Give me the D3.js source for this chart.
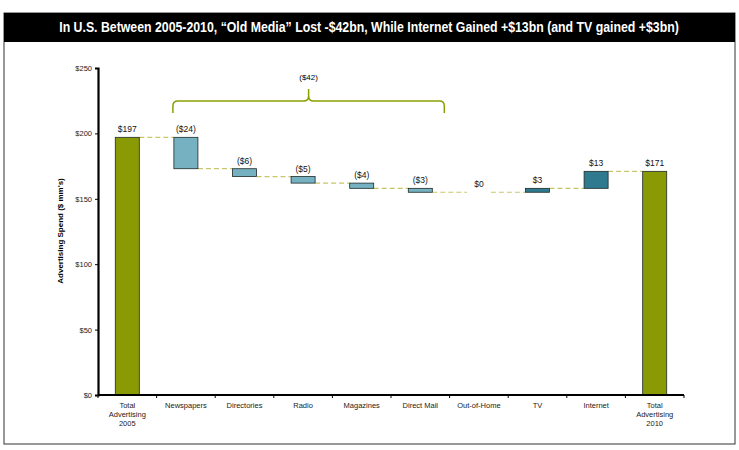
<!DOCTYPE html>
<html>
<head>
<meta charset="utf-8">
<script src="https://cdn.jsdelivr.net/npm/d3@7"></script>
<style>
body { margin: 0; background: #fff; }
text { font-family: "Liberation Sans", Arial, sans-serif; }
</style>
</head>
<body>
<script>
// data
var categories = ["Total Advertising 2005", "Newspapers", "Directories", "Radio", "Magazines",
                  "Direct Mail", "Out-of-Home", "TV", "Internet", "Total Advertising 2010"];
var values = [197, -24, -6, -5, -4, -3, 0, 3, 13, 171];
var kinds = ["total", "delta", "delta", "delta", "delta", "delta", "delta", "delta", "delta", "total"];
var valueLabels = ["$197", "($24)", "($6)", "($5)", "($4)", "($3)", "$0", "$3", "$13", "$171"];
var yTicks = [0, 50, 100, 150, 200, 250];
var braceLabel = "($42)";
var braceSpan = ["Newspapers", "Direct Mail"];

var svg = d3.select("body").append("svg")
	.attr("width", 739)
	.attr("height", 450);

// frame + title
svg.append("rect")
	.attr("x", 4).attr("y", 13)
	.attr("width", 731).attr("height", 431)
	.attr("fill", "none")
	.style("stroke", "#333")
	.style("stroke-width", 1);
svg.append("rect")
	.attr("x", 4).attr("y", 13)
	.attr("width", 731).attr("height", 29)
	.attr("fill", "#000");
// condensed look: squeeze horizontally
svg.append("text")
	.attr("transform", "translate(369,32) scale(0.88,1)")
	.attr("fill", "#fff")
	.style("font-weight", "bold")
	.style("font-size", "14px")
	.style("text-anchor", "middle")
	.text("In U.S. Between 2005-2010, \u201cOld Media\u201d Lost -$42bn, While Internet Gained +$13bn (and TV gained +$3bn)");

var x = d3.scaleBand().domain(categories).range([98, 684]).paddingInner(0.59).paddingOuter(0.295);
var y = d3.scaleLinear().domain([0, 250]).range([395, 68]);

// running totals
var bars = [];
var run = 0;
for (var i = 0; i < values.length; i++) {
	if (kinds[i] == "total") {
		bars.push({c: categories[i], lo: 0, hi: values[i], end: values[i], v: values[i], k: "total", lab: valueLabels[i]});
		run = values[i];
	} else {
		var next = run + values[i];
		bars.push({c: categories[i], lo: Math.min(run, next), hi: Math.max(run, next), end: next, v: values[i],
			k: values[i] < 0 ? "down" : "up", lab: valueLabels[i]});
		run = next;
	}
}
var colors = {total: "#8a9a05", down: "#76b1c2", up: "#2f7a8e"};

// connectors
for (var i = 0; i < bars.length - 1; i++) {
	svg.append("line")
		.attr("x1", x(bars[i].c) + x.bandwidth())
		.attr("x2", x(bars[i + 1].c))
		.attr("y1", y(bars[i].end))
		.attr("y2", y(bars[i].end))
		.style("stroke", "#c9c56a")
		.style("stroke-width", 1.2)
		.style("stroke-dasharray", "5,3");
}

// bars
svg.selectAll(".bar").data(bars.filter(function(d) { return d.v != 0; }))
	.enter().append("rect")
	.attr("class", "bar")
	.attr("x", function(d) { return x(d.c); })
	.attr("y", function(d) { return y(d.hi); })
	.attr("width", x.bandwidth())
	.attr("height", function(d) { return y(d.lo) - y(d.hi); })
	.attr("fill", function(d) { return colors[d.k]; })
	.style("stroke", "#1d2a2a")
	.style("stroke-width", 0.8);

svg.selectAll(".vlab").data(bars)
	.enter().append("text")
	.attr("class", "vlab")
	.attr("x", function(d) { return x(d.c) + x.bandwidth() / 2; })
	.attr("y", function(d) { return y(d.hi) - 5; })
	.style("font-size", "8.5px")
	.style("text-anchor", "middle")
	.attr("fill", "#111")
	.text(function(d) { return d.lab; });

// axes
var yAxis = svg.append("g")
	.attr("transform", "translate(98,0)")
	.call(d3.axisLeft(y).tickValues(yTicks).tickSize(3).tickFormat(function(d) { return "$" + d; }));
yAxis.select(".domain").style("stroke-width", 2.2);
yAxis.selectAll("text").style("font-size", "7.5px").attr("fill", "#222")
	.style("font-family", "'Liberation Sans', Arial");

var xg = svg.append("g").attr("transform", "translate(0,395)");
xg.append("line").attr("x1", 98).attr("x2", 684).attr("y1", 0).attr("y2", 0)
	.style("stroke", "#000").style("stroke-width", 2.2);
xg.selectAll(".xt").data(categories.concat(["_end"]))
	.enter().append("line")
	.attr("x1", function(d, i) { return 98 + i * x.step(); })
	.attr("x2", function(d, i) { return 98 + i * x.step(); })
	.attr("y1", 0).attr("y2", 3)
	.style("stroke", "#000").style("stroke-width", 1);

var xl = xg.selectAll(".xl").data(categories)
	.enter().append("text")
	.attr("class", "xl")
	.attr("x", function(d) { return x(d) + x.bandwidth() / 2; })
	.attr("y", 13)
	.style("font-size", "7.5px")
	.style("text-anchor", "middle")
	.attr("fill", "#222");
xl.each(function(d) {
	var lines = d.indexOf("Total") == 0 ? ["Total", "Advertising", d.slice(-4)] : [d];
	var t = d3.select(this);
	lines.forEach(function(l, j) {
		t.append("tspan").attr("x", x(d) + x.bandwidth() / 2).attr("dy", j == 0 ? 0 : 9).text(l);
	});
});

svg.append("text")
	.attr("transform", "translate(63,231) rotate(-90)")
	.style("font-size", "8px")
	.style("font-weight", "bold")
	.style("text-anchor", "middle")
	.text("Advertising Spend ($ mm's)");

// brace over old media
var bx1 = x(braceSpan[0]) - 1;
var bx2 = x(braceSpan[1]) + x.bandwidth() + 12;
var bm = (bx1 + bx2) / 2, by = 101, r = 5;
svg.append("path")
	.attr("d", "M" + bx1 + "," + (by + 12) + " V" + (by + r) + " Q" + bx1 + "," + by + " " + (bx1 + r) + "," + by +
		" H" + (bm - r) + " Q" + bm + "," + by + " " + bm + "," + (by - r) + " V" + (by - 12) +
		" M" + bm + "," + (by - r) + " Q" + bm + "," + by + " " + (bm + r) + "," + by +
		" H" + (bx2 - r) + " Q" + bx2 + "," + by + " " + bx2 + "," + (by + r) + " V" + (by + 12))
	.attr("fill", "none")
	.style("stroke", "#8aa000")
	.style("stroke-width", 1.5);
svg.append("text")
	.attr("x", bm).attr("y", by - 21)
	.style("font-size", "8px")
	.style("text-anchor", "middle")
	.text(braceLabel);
</script>
</body>
</html>
